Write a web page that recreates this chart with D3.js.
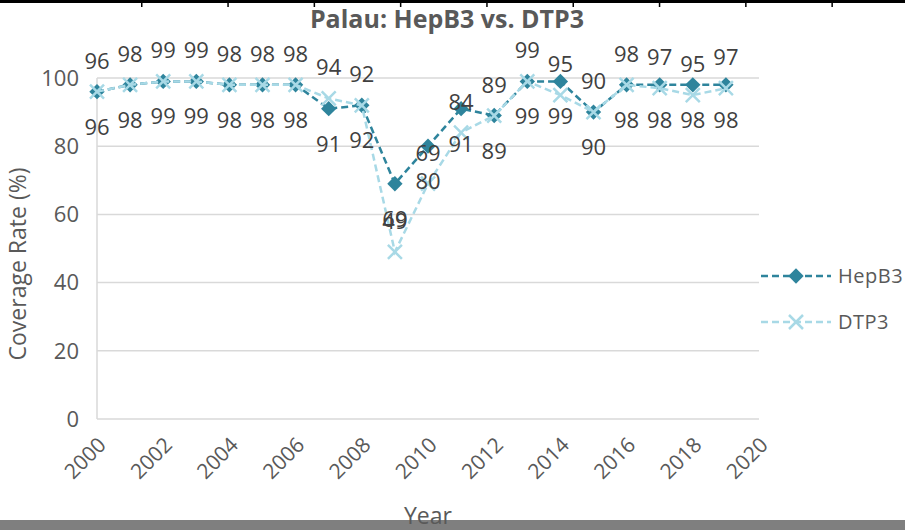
<!DOCTYPE html>
<html>
<head>
<meta charset="utf-8">
<script src="https://cdn.jsdelivr.net/npm/d3@7"></script>
<style>
  body { margin: 0; background: #fff; }
  svg text { font-family: "Open Sans", sans-serif; }
</style>
</head>
<body>
<div id="chart"></div>
<script>
var years = [2000,2001,2002,2003,2004,2005,2006,2007,2008,2009,2010,2011,2012,2013,2014,2015,2016,2017,2018,2019];
var hepb3 = [96,98,99,99,98,98,98,91,92,69,80,91,89,99,99,90,98,98,98,98];
var dtp3  = [96,98,99,99,98,98,98,94,92,49,69,84,89,99,95,90,98,97,95,97];
var yTicks = [0,20,40,60,80,100];
var xTicks = [2000,2002,2004,2006,2008,2010,2012,2014,2016,2018,2020];

var W = 905, H = 530;
var hepColor = "#2e849c", dtpColor = "#a8d9e6";

var svg = d3.select("#chart").append("svg")
  .attr("width", W).attr("height", H);

// frame bits at top and bottom
svg.append("rect").attr("x",0).attr("y",0).attr("width",W).attr("height",3).attr("fill","#000");
var topTicks = d3.range(9).map(function(i){ return 141 + i*86.3; });
svg.selectAll(".ftick").data(topTicks).enter().append("rect")
  .attr("x", function(d){ return d; }).attr("y",0).attr("width",1.5).attr("height",7).attr("fill","#000");
svg.append("rect").attr("x",0).attr("y",520).attr("width",W).attr("height",10).attr("fill","#7f7f7f");

var x = d3.scaleLinear().domain([2000,2020]).range([97,759]);
var y = d3.scaleLinear().domain([0,100]).range([419,78]);

// gridlines
svg.append("g").selectAll("line").data(yTicks).enter().append("line")
  .attr("x1", x(2000)).attr("x2", x(2020))
  .attr("y1", function(d){ return y(d); }).attr("y2", function(d){ return y(d); })
  .attr("stroke", "#d9d9d9").attr("stroke-width", 1.5);

// y axis line
svg.append("line").attr("x1", x(2000)).attr("x2", x(2000)).attr("y1", y(100)).attr("y2", y(0))
  .attr("stroke", "#d9d9d9").attr("stroke-width", 1.5);

// y tick labels
svg.append("g").selectAll("text").data(yTicks).enter().append("text")
  .attr("x", 79).attr("y", function(d){ return y(d); })
  .attr("dy", "0.35em").attr("text-anchor","end")
  .attr("font-size", 22).attr("fill","#595959")
  .text(function(d){ return d; });

// x tick labels
svg.append("g").selectAll("text").data(xTicks).enter().append("text")
  .attr("transform", function(d){ return "translate(" + (x(d)+5) + "," + 441 + ") rotate(-45)"; })
  .attr("text-anchor","end").attr("dy","0.35em")
  .attr("font-size", 21).attr("fill","#595959")
  .text(function(d){ return d; });

// title
svg.append("text").attr("x", 447).attr("y", 28).attr("text-anchor","middle")
  .attr("font-size", 25).attr("font-weight","bold").attr("fill","#595959")
  .text("Palau: HepB3 vs. DTP3");

// axis titles
svg.append("text").attr("transform","translate(26,264) rotate(-90)")
  .attr("text-anchor","middle").attr("font-size",23).attr("fill","#595959")
  .text("Coverage Rate (%)");
svg.append("text").attr("x", 428).attr("y", 524).attr("text-anchor","middle")
  .attr("font-size",23).attr("fill","#595959").text("Year");

var line = function(vals){
  return d3.line().x(function(d,i){ return x(years[i]); }).y(function(d){ return y(d); })(vals);
};
var cross = "M-7,-7L7,7M-7,7L7,-7";
var diamond = d3.symbol().type(d3.symbolDiamond2).size(150);

// HepB3 line + markers
svg.append("path").attr("d", line(hepb3)).attr("fill","none")
  .attr("stroke", hepColor).attr("stroke-width", 2.5).attr("stroke-dasharray","7,4");
svg.append("g").selectAll("path").data(hepb3).enter().append("path")
  .attr("d", diamond)
  .attr("transform", function(d,i){ return "translate(" + x(years[i]) + "," + y(d) + ")"; })
  .attr("fill", hepColor);

// DTP3 line + markers (drawn on top)
svg.append("path").attr("d", line(dtp3)).attr("fill","none")
  .attr("stroke", dtpColor).attr("stroke-width", 2.5).attr("stroke-dasharray","7,4");
svg.append("g").selectAll("path").data(dtp3).enter().append("path")
  .attr("d", cross)
  .attr("transform", function(d,i){ return "translate(" + x(years[i]) + "," + y(d) + ")"; })
  .attr("stroke", dtpColor).attr("stroke-width", 2.5).attr("fill","none");

// data labels: DTP3 above, HepB3 below
svg.append("g").selectAll("text").data(dtp3).enter().append("text")
  .attr("x", function(d,i){ return x(years[i]); }).attr("y", function(d){ return y(d) - 23; })
  .attr("text-anchor","middle").attr("font-size",22).attr("fill","#404040")
  .text(function(d){ return d; });
svg.append("g").selectAll("text").data(hepb3).enter().append("text")
  .attr("x", function(d,i){ return x(years[i]); }).attr("y", function(d){ return y(d) + 43; })
  .attr("text-anchor","middle").attr("font-size",22).attr("fill","#404040")
  .text(function(d){ return d; });

// legend
var legend = [
  { name: "HepB3", color: hepColor, y: 276, mark: "diamond" },
  { name: "DTP3", color: dtpColor, y: 322, mark: "cross" }
];
legend.forEach(function(l){
  var g = svg.append("g");
  g.append("line").attr("x1", 761).attr("x2", 831).attr("y1", l.y).attr("y2", l.y)
    .attr("stroke", l.color).attr("stroke-width", 2.5).attr("stroke-dasharray","7,4");
  if (l.mark === "diamond") {
    g.append("path").attr("d", diamond).attr("transform","translate(796," + l.y + ")").attr("fill", l.color);
  } else {
    g.append("path").attr("d", cross).attr("transform","translate(796," + l.y + ")")
      .attr("stroke", l.color).attr("stroke-width", 2.5).attr("fill","none");
  }
  g.append("text").attr("x", 838).attr("y", l.y).attr("dy","0.35em")
    .attr("font-size",20).attr("letter-spacing",0.5).attr("fill","#595959").text(l.name);
});
</script>
</body>
</html>
